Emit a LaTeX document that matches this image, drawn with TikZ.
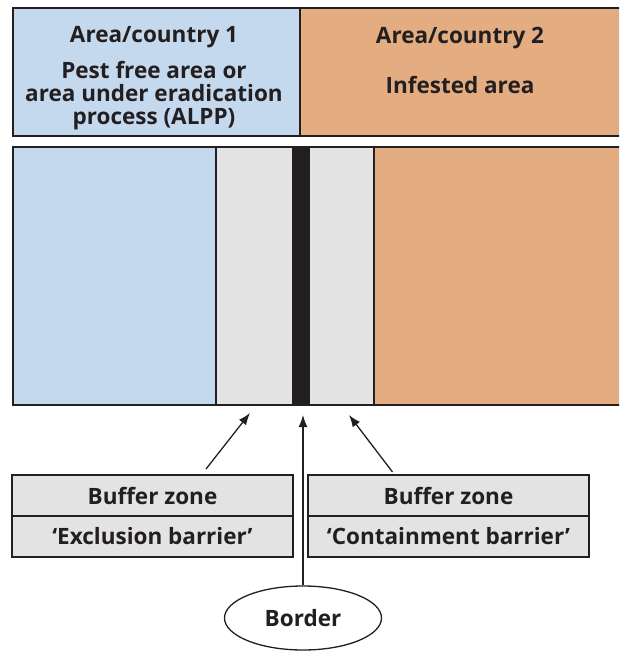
\documentclass[tikz,border=0pt]{standalone}
\usepackage{fontspec}
\setmainfont{Open Sans}
\usetikzlibrary{arrows.meta,shapes.geometric}

\definecolor{freeblue}{RGB}{197,217,238}
\definecolor{infested}{RGB}{227,173,129}
\definecolor{buffgray}{RGB}{227,227,227}
\definecolor{inkdark}{RGB}{35,31,32}

\begin{document}
\begin{tikzpicture}[x=1pt, y=-1pt, line width=1.3pt, color=inkdark,
  >={Latex[length=12pt,width=9pt]},
  lbl/.style={font=\fontsize{22.5}{23}\selectfont\bfseries, anchor=base},
  panel/.style={draw=inkdark, anchor=north west, inner sep=0pt, outer sep=0pt},
  zone/.style={panel, minimum height=258pt},
  tag/.style={panel, fill=buffgray, minimum width=281pt, minimum height=41pt,
    font=\fontsize{22.5}{23}\selectfont\bfseries}]

  \useasboundingbox (0,0) rectangle (619,653);
  \clip (0,0) rectangle (619,653);

  % Header boxes
  \node[panel, fill=freeblue, minimum width=287pt, minimum height=128pt] (cty1) at (13,8) {};
  \node[panel, fill=infested, minimum width=330pt, minimum height=128pt] (cty2) at (cty1.north east) {};

  \node[lbl] (cty1name) at (154,42) {Area/country 1};
  \node[lbl, align=center, anchor=north, inner sep=0pt] (cty1kind) at (154,60.5) {Pest free area or\\area under eradication\\process (ALPP)};
  \node[lbl] (cty2name) at (460,43) {Area/country 2};
  \node[lbl] (cty2kind) at (460,93) {Infested area};

  % Zones along the border
  \node[zone, fill=freeblue, minimum width=203pt] (pfa) at (13,147) {};
  \node[zone, fill=buffgray, minimum width=77pt] (bz1) at (pfa.north east) {};
  \node[zone, fill=inkdark, minimum width=16pt] (brd) at (bz1.north east) {};
  \node[zone, fill=buffgray, minimum width=65pt] (bz2) at (brd.north east) {};
  \node[zone, fill=infested, minimum width=260pt] (ifa) at (bz2.north east) {};

  % Buffer zone labels
  \node[tag] (buf1) at (12,475) {Buffer zone};
  \node[tag, anchor=north] (excl) at (buf1.south) {‘Exclusion barrier’};
  \node[tag] (buf2) at (308,475) {Buffer zone};
  \node[tag, anchor=north] (cont) at (buf2.south) {‘Containment barrier’};

  % Border label
  \node[draw, ellipse, fill=white, inner sep=0pt, minimum width=157pt, minimum height=64pt,
    font=\fontsize{22.5}{23}\selectfont\bfseries] (bord) at (303,618) {Border};

  % Pointers
  \draw[->] ([xshift=53.5pt, yshift=6pt]buf1.north) -- ([xshift=-4.5pt, yshift=-8pt]bz1.south);
  \draw[->] ([xshift=-56pt, yshift=3pt]buf2.north) -- ([xshift=7.5pt, yshift=-10pt]bz2.south);
  \draw[->, shorten >=10pt] (bord.north) -- (bord.north |- brd.south);

\end{tikzpicture}
\end{document}
